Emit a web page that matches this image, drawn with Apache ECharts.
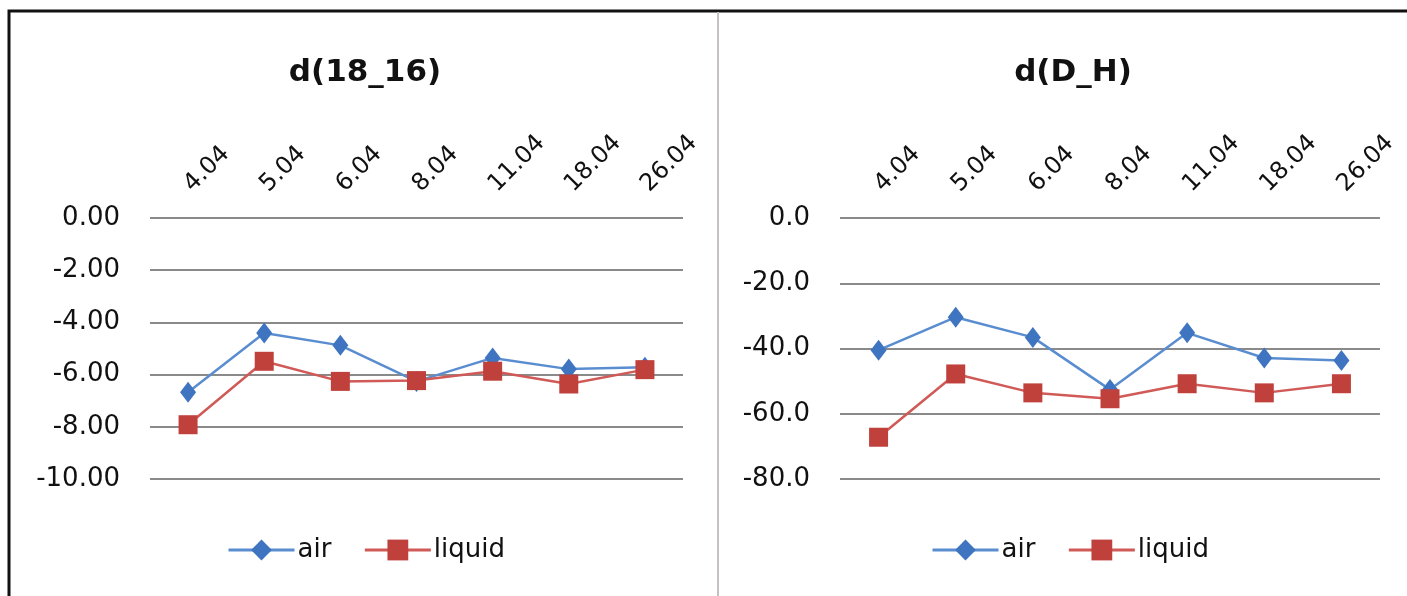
<!DOCTYPE html>
<html>
<head>
<meta charset="utf-8">
<script src="https://cdn.jsdelivr.net/npm/echarts@6/dist/echarts.min.js"></script>
<style>
html,body{margin:0;padding:0;background:#fff;}
#chart{width:1407px;height:596px;}
</style>
</head>
<body>
<div id="chart"></div>
<script>
const categories = ['4.04', '5.04', '6.04', '8.04', '11.04', '18.04', '26.04'];
const seriesNames = ['air', 'liquid'];
const titles = ['d(18_16)', 'd(D_H)'];
const airO = [-6.68, -4.41, -4.88, -6.26, -5.36, -5.79, -5.72];
const liquidO = [-7.92, -5.49, -6.26, -6.23, -5.87, -6.36, -5.81];
const airD = [-40.5, -30.4, -36.6, -52.6, -35.2, -42.9, -43.7];
const liquidD = [-67.2, -47.8, -53.6, -55.4, -50.8, -53.6, -50.8];

const FONT = 'DejaVu Sans';
const TXT = '#111';
const BLUE_LINE = '#5A8DD0', BLUE_MARK = '#3F74C0';
const RED_LINE = '#D05A57', RED_MARK = '#C0403C';

const chart = echarts.init(document.getElementById('chart'), null, {renderer: 'canvas'});

function xAxisCfg(gi) {
  return {
    type: 'category', gridIndex: gi, data: categories, position: 'top', boundaryGap: true,
    axisLine: {show: false}, axisTick: {show: false},
    axisLabel: {interval: 0, rotate: 45, margin: 30, fontFamily: FONT, fontSize: 24, color: TXT}
  };
}
function yAxisCfg(gi, min, interval, digits) {
  return {
    type: 'value', gridIndex: gi, min: min, max: 0, interval: interval,
    axisLine: {show: false}, axisTick: {show: false},
    axisLabel: {margin: 30, fontFamily: FONT, fontSize: 26, color: TXT,
      formatter: v => v.toFixed(digits)},
    splitLine: {lineStyle: {color: '#8a8a8a', width: 2}}
  };
}
function airSeries(idx, data) {
  return {name: seriesNames[0], type: 'line', xAxisIndex: idx, yAxisIndex: idx, data: data,
    symbol: 'diamond', symbolSize: [16, 21], lineStyle: {color: BLUE_LINE, width: 2.5},
    itemStyle: {color: BLUE_MARK}, z: 3};
}
function liqSeries(idx, data) {
  return {name: seriesNames[1], type: 'line', xAxisIndex: idx, yAxisIndex: idx, data: data,
    symbol: 'rect', symbolSize: 19, lineStyle: {color: RED_LINE, width: 2.5},
    itemStyle: {color: RED_MARK}, z: 4};
}
function legendCfg(left) {
  return {data: seriesNames, left: left, top: 532, itemWidth: 66, itemHeight: 26, itemGap: 32,
    lineStyle: {width: 3},
    textStyle: {fontFamily: FONT, fontSize: 26, color: TXT, padding: [0, 0, 0, -2]}, selectedMode: false};
}

chart.setOption({
  animation: false,
  backgroundColor: '#fff',
  title: [
    {text: titles[0], left: 360, top: 52, textAlign: 'center',
      textStyle: {fontFamily: FONT, fontSize: 31, fontWeight: 'bold', color: '#111'}},
    {text: titles[1], left: 1068, top: 52, textAlign: 'center',
      textStyle: {fontFamily: FONT, fontSize: 31, fontWeight: 'bold', color: '#111'}}
  ],
  grid: [
    {left: 150, top: 218, width: 533, height: 261},
    {left: 840, top: 218, width: 540, height: 261}
  ],
  xAxis: [xAxisCfg(0), xAxisCfg(1)],
  yAxis: [yAxisCfg(0, -10, 2, 2), yAxisCfg(1, -80, 20, 1)],
  legend: [legendCfg(222), legendCfg(926)],
  series: [airSeries(0, airO), liqSeries(0, liquidO), airSeries(1, airD), liqSeries(1, liquidD)],
  graphic: [
    {type: 'rect', shape: {x: 9, y: 11, width: 1420, height: 620},
      style: {fill: null, stroke: '#111', lineWidth: 3}, silent: true},
    {type: 'line', shape: {x1: 718, y1: 12, x2: 718, y2: 596},
      style: {stroke: '#c6c2c2', lineWidth: 2}, silent: true}
  ]
});
</script>
</body>
</html>
